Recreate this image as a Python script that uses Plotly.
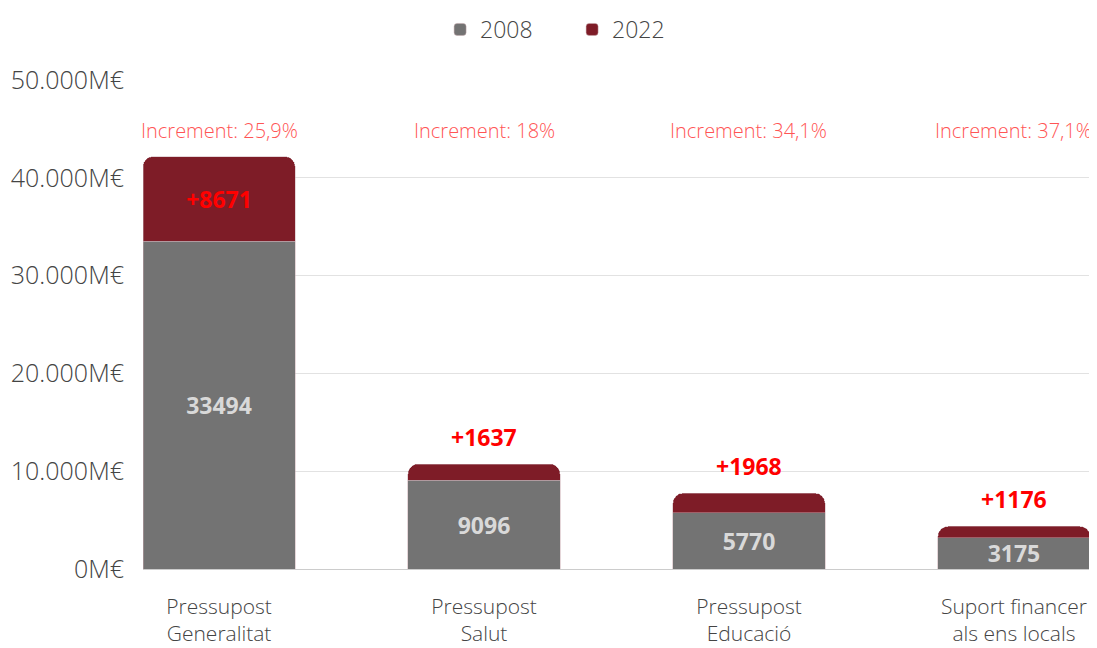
import plotly.graph_objects as go

categories = ["Pressupost<br>Generalitat", "Pressupost<br>Salut", "Pressupost<br>Educació", "Suport financer<br>als ens locals"]
values_2008 = [33494, 9096, 5770, 3175]
increase_2022 = [8671, 1637, 1968, 1176]
increment_pct = ["25,9%", "18%", "34,1%", "37,1%"]
increase_inside = [True, False, False, False]
y_tickvals = [0, 10000, 20000, 30000, 40000, 50000]
y_ticktext = ["0M€", "10.000M€", "20.000M€", "30.000M€", "40.000M€", "50.000M€"]

FONT = "Open Sans"
GRAY = "#737373"
RED = "#7e1c27"
BW = 0.574

x = list(range(len(categories)))

fig = go.Figure()
fig.add_trace(go.Bar(
    x=x, y=values_2008, name="2008", width=BW,
    marker=dict(color=GRAY, line=dict(color="rgba(200,170,175,0.6)", width=0.8)),
    text=[str(v) for v in values_2008], textposition="inside", insidetextanchor="middle",
    constraintext="none",
    textfont=dict(family=FONT, size=23, color="#d9d9d9", weight="bold"),
    hoverinfo="skip",
))
fig.add_trace(go.Bar(
    x=x, y=increase_2022, name="2022", width=BW,
    marker=dict(color=RED, line=dict(color="rgba(200,170,175,0.6)", width=0.8)),
    text=["+" + str(v) if inside else "" for v, inside in zip(increase_2022, increase_inside)],
    textposition="inside", insidetextanchor="middle", constraintext="none",
    textfont=dict(family=FONT, size=23, color="#ff0000", weight="bold"),
    hoverinfo="skip",
))

for i, (base, inc, inside) in enumerate(zip(values_2008, increase_2022, increase_inside)):
    if not inside:
        fig.add_annotation(x=i, y=base + inc, text="+" + str(inc), showarrow=False,
                           xanchor="center", yanchor="bottom", yshift=9,
                           font=dict(family=FONT, size=23, color="#ff0000", weight="bold"))

for i, p in enumerate(increment_pct):
    fig.add_annotation(x=i, y=44800, text="Increment: " + p, showarrow=False,
                       xanchor="center", yanchor="middle",
                       font=dict(family=FONT, size=20, color="#ff5555", weight=300))

fig.update_layout(
    barmode="stack",
    barcornerradius=10,
    width=1089, height=640,
    margin=dict(l=135, r=7, t=72, b=79),
    paper_bgcolor="white", plot_bgcolor="white",
    font=dict(family=FONT, color="#444444"),
    showlegend=True,
    legend=dict(orientation="h", xref="container", yref="container",
                x=0.518, y=1.0, xanchor="center", yanchor="top",
                font=dict(family=FONT, size=23, color="#444444", weight=300),
                entrywidth=87, entrywidthmode="pixels", traceorder="normal"),
    xaxis=dict(range=[-BW / 2, len(categories) - 1 + BW / 2], automargin=False,
               tickvals=x, ticktext=categories, showgrid=False, zeroline=False,
               showline=False, ticks="", ticklabelstandoff=23,
               tickfont=dict(family=FONT, size=21, color="#444444", weight=300)),
    yaxis=dict(range=[0, 50000], tickvals=y_tickvals, ticktext=y_ticktext, automargin=False,
               showgrid=True, gridcolor="#e2e2e2", gridwidth=1,
               zeroline=True, zerolinecolor="#cccccc", zerolinewidth=1,
               showline=False, ticks="", ticklabelstandoff=18,
               tickfont=dict(family=FONT, size=25, color="#444444", weight=300)),
)

fig.write_html("out.html")
